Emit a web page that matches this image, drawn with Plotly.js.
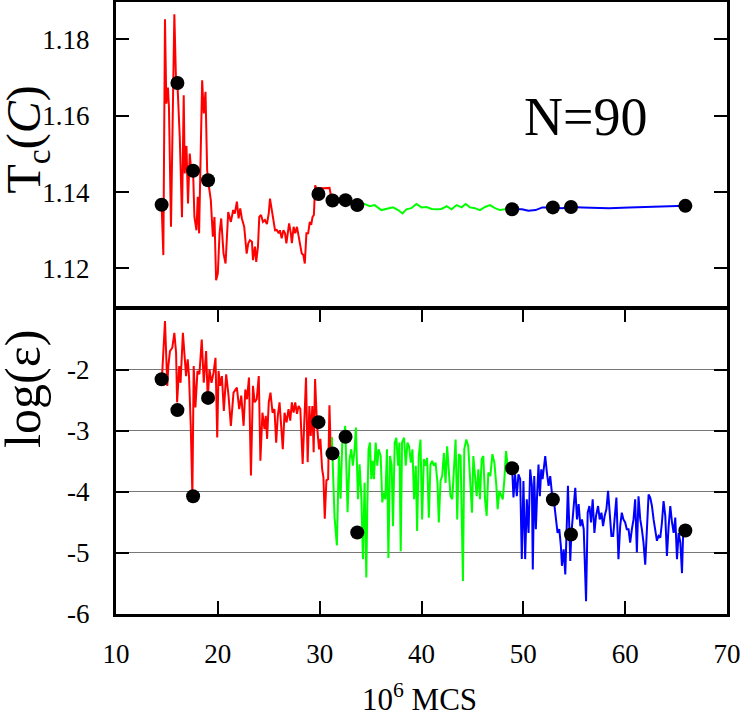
<!DOCTYPE html>
<html>
<head>
<meta charset="utf-8">
<script src="https://cdn.plot.ly/plotly-3.0.1.min.js"></script>
<style>html,body{margin:0;padding:0;background:#fff;}#chart{width:747px;height:713px;}</style>
</head>
<body>
<div id="chart"></div>
<script>
// ---- Top panel: Tc(C) ----
const topRedX = [14.48,14.65,14.81,14.94,15.1,15.2,15.4,15.6,15.73,15.9,16.03,16.26,16.48,16.65,16.75,16.92,17.07,17.24,17.41,17.57,17.7,17.9,18.03,18.16,18.46,18.62,18.79,18.95,19.04,19.31,19.51,19.67,19.83,20.0,20.17,20.33,20.56,20.76,21.02,21.28,21.51,21.67,21.87,22.04,22.2,22.36,22.59,22.83,22.99,23.15,23.35,23.45,23.65,23.77,23.94,24.07,24.24,24.43,24.62,24.82,25.0,25.12,25.29,25.45,25.62,25.78,25.98,26.1,26.27,26.44,26.6,26.73,26.9,27.0,27.17,27.27,27.44,27.6,27.77,27.9,28.06,28.24,28.4,28.54,28.7,28.87,29.03,29.17,29.3,29.43,29.56,29.75,29.88,30.1,30.4,30.7,30.97,31.07,31.26];
const topRedY = [1.1367,1.1235,1.1853,1.1632,1.1674,1.1623,1.1309,1.1667,1.1866,1.1685,1.1686,1.1545,1.1334,1.1654,1.1449,1.1521,1.1370,1.1501,1.1449,1.1456,1.1335,1.1300,1.1388,1.1292,1.1693,1.1606,1.1663,1.1458,1.1431,1.1379,1.1283,1.1335,1.1169,1.1187,1.1292,1.1331,1.1239,1.1213,1.1348,1.1322,1.1353,1.1344,1.1375,1.1331,1.1357,1.1331,1.1309,1.1239,1.1266,1.1274,1.1270,1.1222,1.1257,1.1217,1.1257,1.1335,1.1340,1.1322,1.1327,1.1316,1.1344,1.1383,1.1353,1.1318,1.1300,1.1301,1.1292,1.1300,1.1279,1.1300,1.1292,1.1266,1.1300,1.1318,1.1292,1.1266,1.1309,1.1292,1.1309,1.1292,1.1266,1.1239,1.1235,1.1213,1.1292,1.1292,1.1322,1.1314,1.1335,1.1340,1.1418,1.1405,1.1410,1.1411,1.1410,1.1411,1.1411,1.1396,1.1378];
const topGreenX = [31.26,32.54,33.69,34.41,34.9,35.4,36.06,36.55,37.2,37.7,38.13,38.52,39.0,39.5,40.0,40.5,41.0,41.48,41.97,42.46,42.95,43.45,43.94,44.33,44.76,45.25,45.74,46.24,46.73,47.22,47.7,48.2,48.9];
const topGreenY = [1.1378,1.1379,1.1366,1.1369,1.1363,1.1366,1.1353,1.1356,1.1360,1.1353,1.1344,1.1355,1.1358,1.1369,1.1360,1.1361,1.1356,1.1355,1.1356,1.1363,1.1355,1.1366,1.1360,1.1369,1.1360,1.1358,1.1353,1.1361,1.1366,1.1358,1.1353,1.1355,1.1355];
const topBlueX = [48.9,49.86,50.5,51.2,51.87,52.9,53.8,54.68,55.8,58.4,60.4,62.3,64.3,65.91];
const topBlueY = [1.1355,1.1355,1.1351,1.1353,1.1360,1.1360,1.1358,1.1361,1.1360,1.1358,1.1360,1.1361,1.1363,1.1364];

// ---- Bottom panel: log(eps) ----
const botRedX = [14.48,14.55,14.81,15.04,15.14,15.3,15.53,15.73,15.9,16.0,16.21,16.34,16.57,16.73,16.88,17.04,17.17,17.34,17.5,17.63,17.8,18.0,18.19,18.42,18.62,18.85,19.01,19.18,19.38,19.58,19.77,19.94,20.07,20.23,20.4,20.59,20.82,21.05,21.28,21.54,21.87,22.1,22.3,22.53,22.7,22.86,23.06,23.25,23.45,23.62,23.82,24.02,24.18,24.38,24.58,24.71,24.84,25.0,25.17,25.37,25.56,25.73,25.89,26.06,26.22,26.38,26.55,26.75,26.94,27.11,27.27,27.44,27.6,27.77,27.93,28.1,28.33,28.46,28.66,28.82,28.99,29.12,29.28,29.41,29.55,29.74,29.94,30.07,30.24,30.37,30.5,30.66,30.83,30.96,31.09,31.2];
const botRedY = [-2.152,-2.016,-1.199,-2.26,-1.935,-1.69,-1.635,-1.39,-1.717,-2.53,-1.935,-2.21,-1.39,-1.717,-2.1,-1.826,-2.1,-2.915,-4.06,-1.935,-2.615,-2.016,-2.07,-1.5,-2.21,-1.69,-2.48,-1.99,-2.21,-2.04,-1.8,-3.106,-2.016,-2.26,-2.1,-2.67,-2.07,-2.42,-2.915,-2.37,-2.29,-2.64,-2.42,-2.915,-2.32,-2.48,-2.125,-3.73,-2.26,-2.53,-2.48,-2.1,-3.487,-2.70,-2.97,-2.75,-3.13,-2.53,-2.37,-2.70,-2.64,-3.19,-2.75,-2.53,-2.97,-3.30,-2.70,-2.86,-2.64,-2.83,-2.53,-2.70,-2.53,-2.72,-2.59,-2.64,-3.54,-2.915,-2.125,-3.51,-2.59,-3.08,-2.59,-3.35,-2.15,-2.915,-3.30,-3.13,-3.62,-3.76,-4.44,-3.81,-3.79,-2.577,-3.35,-3.106];
const botGreenX = [31.2,31.46,31.69,31.89,32.05,32.22,32.38,32.51,32.74,32.94,33.1,33.26,33.43,33.56,33.76,33.92,34.09,34.25,34.41,34.58,34.68,34.8,34.94,35.07,35.2,35.33,35.5,35.66,35.79,35.99,36.15,36.29,36.45,36.61,36.75,36.91,37.07,37.2,37.37,37.53,37.7,37.83,37.96,38.09,38.29,38.45,38.62,38.78,38.95,39.11,39.27,39.44,39.57,39.73,39.9,40.06,40.23,40.39,40.55,40.72,40.88,41.05,41.21,41.38,41.57,41.7,41.87,42.03,42.2,42.36,42.52,42.69,42.85,43.02,43.18,43.35,43.51,43.67,43.84,44.07,44.2,44.4,44.59,44.79,44.96,45.09,45.25,45.42,45.58,45.74,45.91,46.07,46.24,46.4,46.56,46.76,46.96,47.16,47.35,47.48,47.65,47.81,47.98,48.14,48.3,48.47,48.9];
const botGreenY = [-3.106,-4.41,-4.876,-3.405,-4.11,-3.19,-3.09,-2.915,-4.33,-3.46,-3.30,-3.57,-3.30,-2.945,-4.12,-3.546,-4.07,-5.10,-3.85,-5.40,-4.23,-3.30,-3.19,-3.79,-3.49,-3.79,-3.19,-3.57,-3.30,-3.41,-4.17,-4.01,-4.12,-3.30,-5.08,-3.41,-3.57,-4.56,-3.19,-3.11,-3.57,-3.19,-4.97,-3.19,-3.11,-3.57,-3.19,-3.25,-3.52,-3.30,-4.12,-3.57,-4.64,-3.41,-3.14,-4.45,-3.46,-3.57,-3.44,-4.42,-3.55,-3.49,-3.57,-3.52,-3.85,-4.50,-3.82,-3.74,-3.36,-3.85,-3.25,-3.63,-4.07,-4.12,-3.66,-3.14,-4.45,-3.38,-3.41,-5.46,-3.30,-3.14,-3.25,-3.79,-4.34,-3.41,-3.71,-4.07,-3.63,-4.12,-3.46,-3.41,-4.12,-4.39,-3.68,-3.74,-3.38,-3.52,-3.90,-4.28,-3.98,-4.04,-4.12,-3.79,-3.33,-3.57,-3.611];
const botBlueX = [48.9,49.03,49.19,49.36,49.52,49.69,49.85,50.01,50.18,50.34,50.51,50.67,50.84,50.93,51.07,51.23,51.36,51.49,51.62,51.76,51.89,52.02,52.15,52.31,52.48,52.64,52.8,52.87,53.04,53.2,53.36,53.53,53.69,53.79,53.96,54.12,54.28,54.38,54.51,54.61,54.71,54.91,55.1,55.27,55.43,55.6,55.76,55.93,56.16,56.32,56.49,56.65,56.81,56.98,57.14,57.34,57.5,57.67,57.83,57.99,58.16,58.32,58.49,58.65,58.82,58.98,59.14,59.34,59.51,59.67,59.83,60.0,60.16,60.33,60.49,60.66,60.82,60.98,61.15,61.31,61.48,61.64,61.8,61.97,62.13,62.3,62.46,62.63,62.79,62.95,63.12,63.28,63.45,63.61,63.77,63.94,64.1,64.27,64.43,64.6,64.76,64.92,65.09,65.25,65.42,65.58,65.68,65.91];
const botBlueY = [-3.611,-4.09,-3.71,-4.07,-3.71,-3.79,-5.10,-3.82,-5.10,-4.12,-4.67,-3.63,-3.90,-5.27,-3.74,-4.61,-4.01,-3.55,-4.07,-3.63,-3.79,-3.63,-3.41,-3.68,-3.90,-3.74,-4.01,-4.124,-4.20,-4.45,-4.67,-4.61,-4.89,-5.21,-4.94,-5.35,-4.61,-3.90,-4.56,-5.13,-4.696,-4.34,-3.93,-4.45,-4.20,-4.56,-4.45,-4.61,-5.79,-4.34,-4.23,-4.50,-4.12,-4.67,-4.39,-4.23,-4.45,-4.34,-4.56,-4.39,-4.28,-3.98,-4.39,-4.72,-4.72,-4.34,-4.09,-5.10,-4.56,-4.34,-4.45,-4.50,-4.61,-4.61,-4.83,-4.61,-4.45,-4.12,-4.99,-4.07,-4.45,-4.61,-4.83,-5.19,-4.61,-4.04,-4.09,-4.23,-4.45,-4.61,-4.80,-4.72,-4.75,-4.50,-4.15,-4.39,-5.05,-4.56,-4.23,-4.50,-4.67,-4.42,-5.10,-4.67,-4.83,-5.33,-4.75,-4.631];

// ---- Black markers ----
const dotX = [14.48,16.03,17.57,19.04,29.88,31.26,32.54,33.69,48.90,52.90,54.68,65.91];
const dotTopY = [1.1367,1.1686,1.1456,1.1431,1.1395,1.1378,1.1379,1.1366,1.1355,1.1360,1.1361,1.1364];
const dotBotY = [-2.152,-2.658,-4.069,-2.458,-2.855,-3.367,-3.095,-4.663,-3.611,-4.124,-4.696,-4.631];

const topTicks = [1.12,1.14,1.16,1.18];
const botTicks = [-6,-5,-4,-3,-2];
const xTicks = [10,20,30,40,50,60,70];

const FONT = 'Liberation Serif, Times New Roman, serif';
function line(x,y,color,xa,ya){return {x:x,y:y,xaxis:xa,yaxis:ya,type:'scatter',mode:'lines',line:{color:color,width:2},hoverinfo:'skip',showlegend:false};}
function dots(x,y,xa,ya){return {x:x,y:y,xaxis:xa,yaxis:ya,type:'scatter',mode:'markers',marker:{color:'black',size:14},showlegend:false};}

const data = [
  line(topRedX,topRedY,'#ff0000','x2','y2'),
  line(topGreenX,topGreenY,'#00ff00','x2','y2'),
  line(topBlueX,topBlueY,'#0000ff','x2','y2'),
  dots(dotX,dotTopY,'x2','y2'),
  line(botRedX,botRedY,'#ff0000','x','y'),
  line(botGreenX,botGreenY,'#00ff00','x','y'),
  line(botBlueX,botBlueY,'#0000ff','x','y'),
  dots(dotX,dotBotY,'x','y')
];

const axCommon = {showline:true,linecolor:'black',linewidth:3,zeroline:false,tickcolor:'black',tickwidth:2,ticklen:13,ticks:'inside',tickfont:{family:FONT,size:27,color:'black'}};

const layout = {
  width:747,height:713,
  margin:{l:116,r:20,t:2,b:99},
  paper_bgcolor:'white',plot_bgcolor:'white',
  showlegend:false,
  xaxis:Object.assign({},axCommon,{anchor:'y',range:[10,70],tickvals:xTicks,ticktext:xTicks.map(String),mirror:'ticks',showgrid:false,ticklabelstandoff:14}),
  yaxis:Object.assign({},axCommon,{anchor:'x',domain:[0,0.4984],range:[-6,-1],tickvals:botTicks,ticktext:botTicks.map(String),mirror:'ticks',showgrid:true,gridcolor:'#777',gridwidth:1,ticklabelstandoff:18}),
  xaxis2:Object.assign({},axCommon,{anchor:'y2',matches:'x',range:[10,70],ticks:'',showticklabels:false,mirror:true,showgrid:false}),
  yaxis2:Object.assign({},axCommon,{anchor:'x2',domain:[0.5016,1],range:[1.1099,1.1898],tickvals:topTicks,ticktext:topTicks.map(v=>v.toFixed(2)),mirror:'ticks',showgrid:false,ticklabelstandoff:18}),
  annotations:[
    {text:'N=90',xref:'x2',yref:'y2',x:56.07,y:1.1596,showarrow:false,xanchor:'center',yanchor:'middle',font:{family:FONT,size:54,color:'black'}},
    {text:'T<sub>c</sub>(<i>C</i>)',xref:'paper',yref:'paper',x:-0.146,y:0.775,textangle:-90,showarrow:false,xanchor:'center',yanchor:'middle',font:{family:FONT,size:48,color:'black'}},
    {text:'log(ε)',xref:'paper',yref:'paper',x:-0.152,y:0.368,textangle:-90,showarrow:false,xanchor:'center',yanchor:'middle',font:{family:FONT,size:50,color:'black'}},
    {text:'10<sup>6</sup> MCS',xref:'paper',yref:'paper',x:0.4975,y:-0.137,showarrow:false,xanchor:'center',yanchor:'middle',font:{family:FONT,size:31,color:'black'}}
  ]
};

Plotly.newPlot('chart',data,layout,{staticPlot:true,displayModeBar:false});
</script>
</body>
</html>
